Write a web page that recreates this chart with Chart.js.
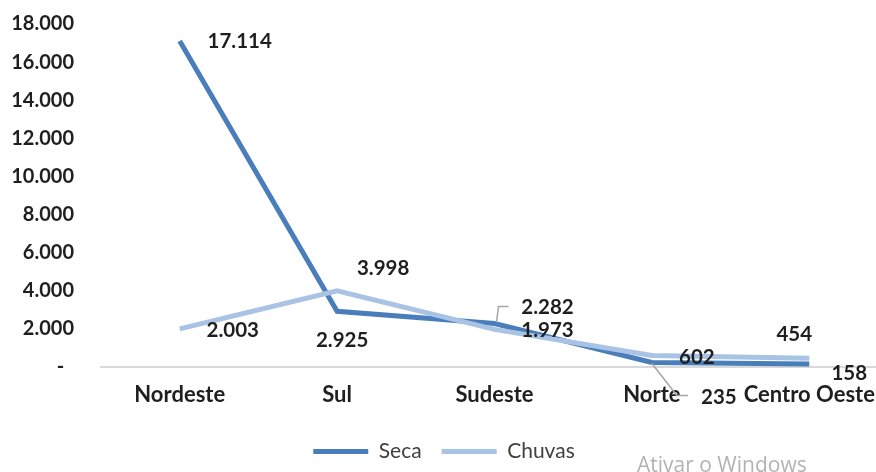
<!DOCTYPE html>
<html>
<head>
<meta charset="utf-8">
<script src="https://cdn.jsdelivr.net/npm/chart.js@4.4.1/dist/chart.umd.min.js"></script>
<style>
    html, body { margin: 0; padding: 0; background: #fff; overflow: hidden; }
    #wrap { position: relative; width: 890px; height: 472px; }
    #watermark {
        position: absolute; left: 637px; top: 450px;
        font-family: "Open Sans", sans-serif; font-size: 21px; color: #b3b3b3;
    }
</style>
</head>
<body>
<div id="wrap">
    <canvas id="regioesChart" width="890" height="472"></canvas>
    <div id="watermark">Ativar o Windows</div>
</div>
<script>
// Dados
const regioes = ["Nordeste", "Sul", "Sudeste", "Norte", "Centro Oeste"];
const seca = [17114, 2925, 2282, 235, 158];
const chuvas = [2003, 3998, 1973, 602, 454];
const yTicks = [0, 2000, 4000, 6000, 8000, 10000, 12000, 14000, 16000, 18000];

// formato pt-BR: 17114 -> "17.114", 0 -> "-"
const fmt = (v) => v === 0 ? "-" : String(v).replace(/\B(?=(\d{3})+(?!\d))/g, ".");

// Posicao dos rotulos (deslocamento em px em relacao ao ponto) e linhas de chamada
const labelPos = [
    [[60, 1], [5, 29], [53, -16], [67, 35], [40, 9]],     // Seca
    [[53, 2], [46, -22], [53, 1], [45, 2], [-15, -24]],   // Chuvas
];
const callouts = [
    { 2: [[2, -1], [4, -17], [14, -17]], 3: [[0, 1], [25, 33], [36, 33]] },
    {},
];

// Plugin simples para os rotulos de dados
const dataLabelsPlugin = {
    id: "rotulos",
    afterDatasetsDraw(chart) {
        const ctx = chart.ctx;
        ctx.save();
        chart.data.datasets.forEach((ds, di) => {
            const meta = chart.getDatasetMeta(di);
            meta.data.forEach((pt, i) => {
                const c = callouts[di][i];
                if (c) {
                    ctx.strokeStyle = "#a6a6a6";
                    ctx.lineWidth = 1.5;
                    ctx.beginPath();
                    c.forEach(([dx, dy], k) => {
                        if (k === 0) ctx.moveTo(pt.x + dx, pt.y + dy);
                        else ctx.lineTo(pt.x + dx, pt.y + dy);
                    });
                    ctx.stroke();
                }
                const [ox, oy] = labelPos[di][i];
                ctx.font = "bold 20.5px Lato";
                ctx.fillStyle = "#1f1f1f";
                ctx.textAlign = "center";
                ctx.textBaseline = "middle";
                ctx.fillText(fmt(ds.data[i]), pt.x + ox, pt.y + oy);
            });
        });
        ctx.restore();
    },
};

const ctx = document.getElementById("regioesChart").getContext("2d");
new Chart(ctx, {
    type: "line",
    data: {
        labels: regioes,
        datasets: [
            {
                label: "Seca",
                data: seca,
                borderColor: "#4a7ebb",
                backgroundColor: "#4a7ebb",
                borderWidth: 5,
                pointRadius: 0,
                order: 1,
            },
            {
                label: "Chuvas",
                data: chuvas,
                borderColor: "#a9c3e4",
                backgroundColor: "#a9c3e4",
                borderWidth: 5,
                pointRadius: 0,
                order: 0,
            },
        ],
    },
    options: {
        responsive: false,
        animation: false,
        layout: { padding: { top: 0, left: 0, right: 2, bottom: 0 } },
        scales: {
            x: {
                offset: true,
                grid: { display: false },
                border: { display: true, color: "#d9d9d9", width: 2 },
                ticks: {
                    padding: 7,
                    color: "#1f1f1f",
                    font: { family: "Lato", size: 22, weight: "bold" },
                },
                afterFit: (axis) => { axis.height = 54; },
            },
            y: {
                min: 0,
                max: 18000,
                afterBuildTicks: (axis) => { axis.ticks = yTicks.map((v) => ({ value: v })); },
                afterFit: (axis) => {
                    axis.width = 101;
                    axis.paddingTop = 24;
                    axis.paddingBottom = 0;
                },
                grid: { display: false },
                border: { display: false },
                ticks: {
                    padding: 19,
                    color: "#1f1f1f",
                    font: { family: "Lato", size: 20, weight: "bold" },
                    callback: (v) => v === 0 ? "-  " : fmt(v),
                },
            },
        },
        plugins: {
            legend: {
                position: "bottom",
                labels: {
                    boxWidth: 55,
                    boxHeight: 5,
                    padding: 20,
                    color: "#404040",
                    font: { family: "Lato", size: 21 },
                    sort: (a, b) => a.datasetIndex - b.datasetIndex,
                    generateLabels: (chart) => Chart.defaults.plugins.legend.labels.generateLabels(chart).map((l) => {
                        l.lineWidth = 0;
                        l.fillStyle = l.strokeStyle;
                        return l;
                    }),
                },
            },
            tooltip: { enabled: false },
        },
    },
    plugins: [dataLabelsPlugin],
});
</script>
</body>
</html>
